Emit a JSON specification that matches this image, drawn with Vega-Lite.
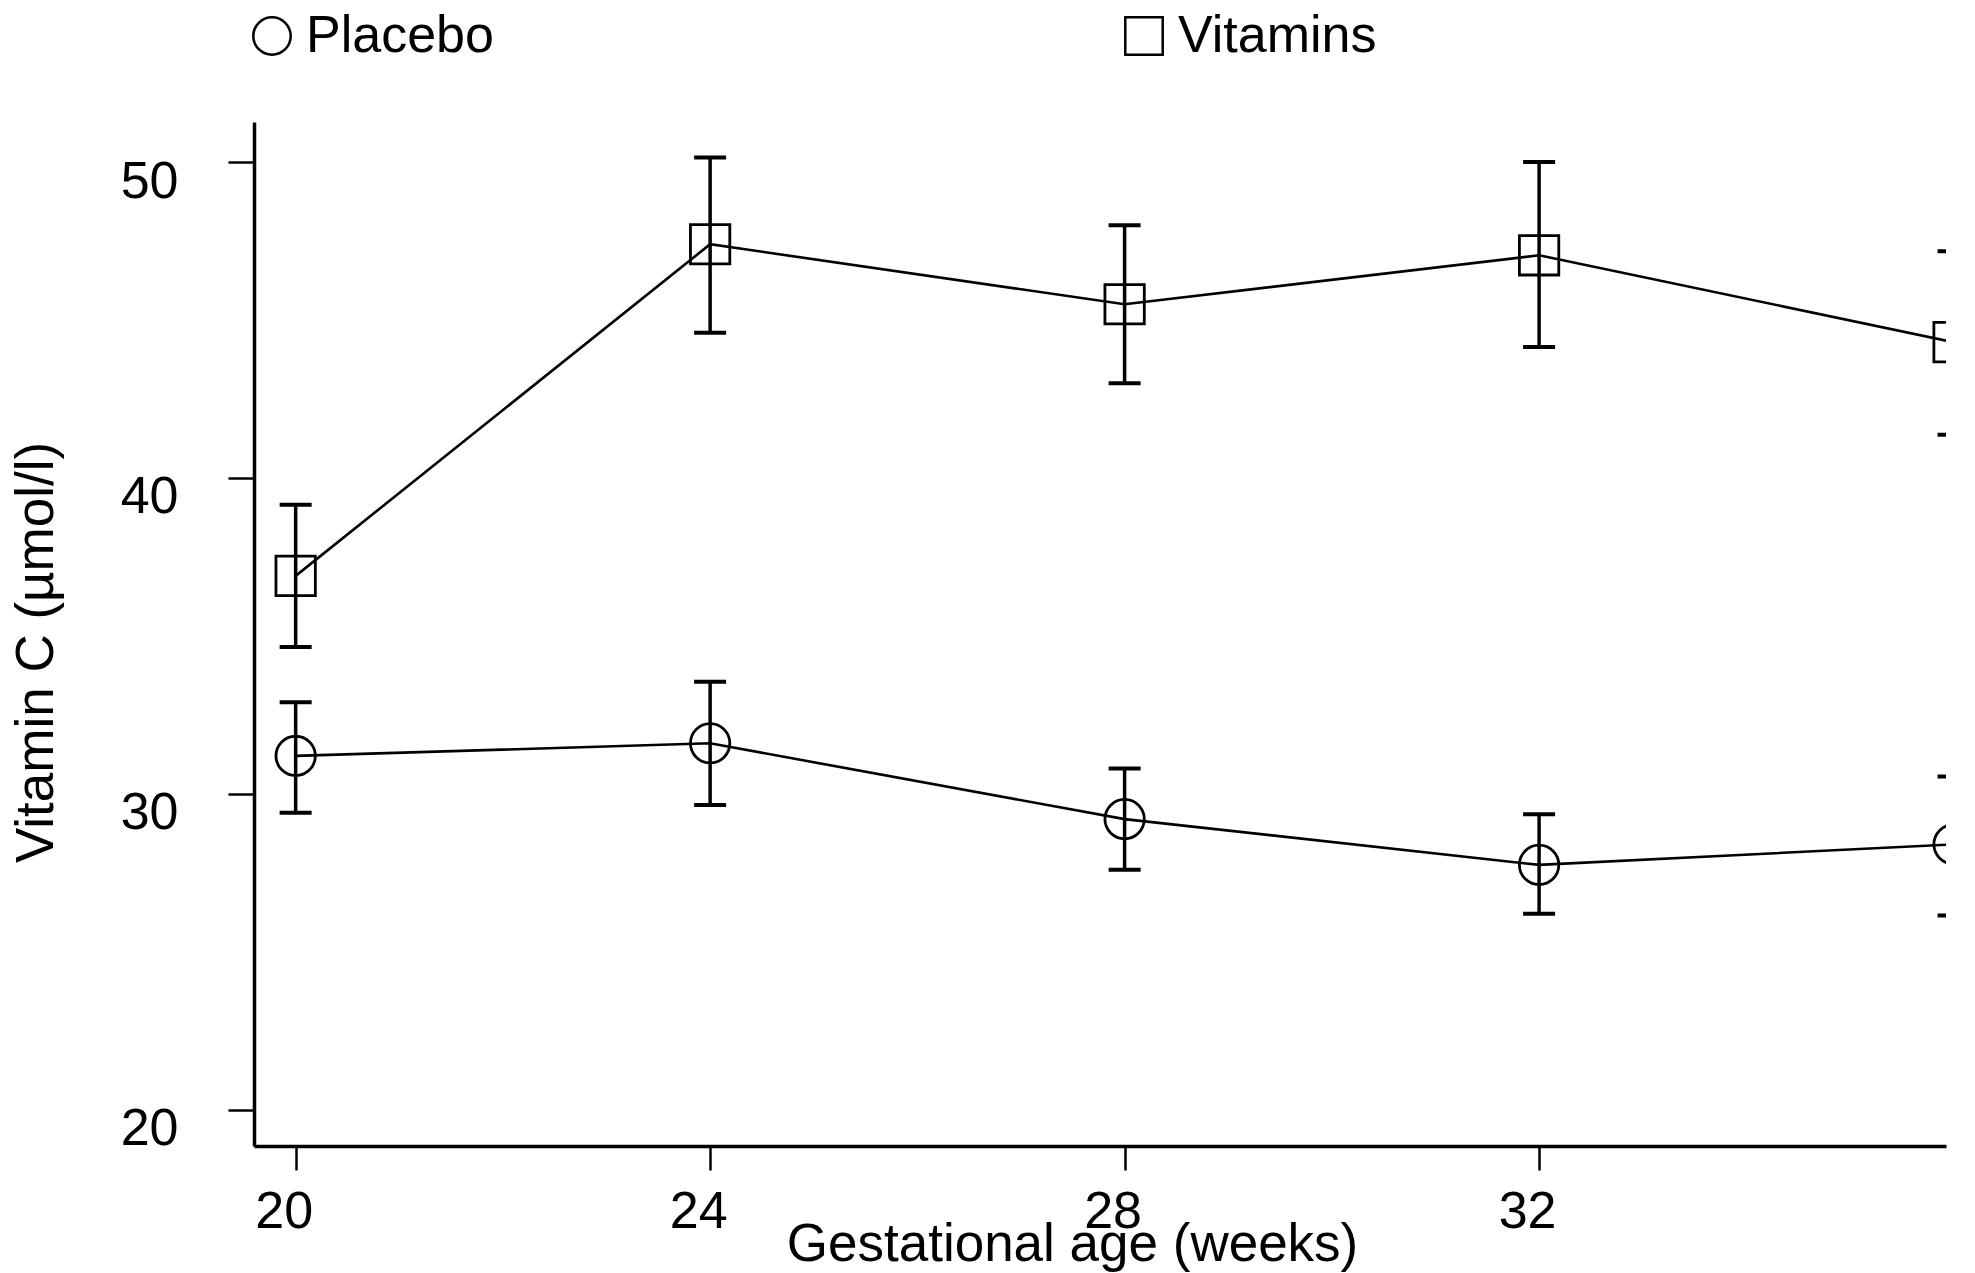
{
  "$schema": "https://vega.github.io/schema/vega-lite/v6.json",
  "width": 1692,
  "height": 1024,
  "autosize": {"type": "none"},
  "padding": {"left": 254, "top": 122, "right": 29, "bottom": 127},
  "background": "white",
  "config": {
    "view": {"stroke": null},
    "font": "Liberation Sans",
    "axis": {
      "domainColor": "black",
      "domainWidth": 3.5,
      "tickColor": "black",
      "tickWidth": 2.5,
      "grid": false,
      "labelFont": "Liberation Sans",
      "labelFontSize": 52,
      "labelColor": "black",
      "titleFont": "Liberation Sans",
      "titleFontSize": 53,
      "titleFontWeight": "normal",
      "titleColor": "black"
    },
    "legend": {
      "labelFont": "Liberation Sans",
      "labelFontSize": 52,
      "labelColor": "black",
      "labelLimit": 600
    }
  },
  "data": {
    "values": [
      {"week": 20, "group": "Placebo", "mean": 31.2, "lo": 29.4, "hi": 32.9},
      {"week": 24, "group": "Placebo", "mean": 31.6, "lo": 29.65, "hi": 33.55},
      {"week": 28, "group": "Placebo", "mean": 29.2, "lo": 27.6, "hi": 30.8},
      {"week": 32, "group": "Placebo", "mean": 27.75, "lo": 26.2, "hi": 29.35},
      {"week": 36, "group": "Placebo", "mean": 28.4, "lo": 26.15, "hi": 30.55},
      {"week": 20, "group": "Vitamins", "mean": 36.9, "lo": 34.65, "hi": 39.15},
      {"week": 24, "group": "Vitamins", "mean": 47.4, "lo": 44.6, "hi": 50.15},
      {"week": 28, "group": "Vitamins", "mean": 45.5, "lo": 43.0, "hi": 48.0},
      {"week": 32, "group": "Vitamins", "mean": 47.05, "lo": 44.15, "hi": 50.0},
      {"week": 36, "group": "Vitamins", "mean": 44.3, "lo": 41.37, "hi": 47.18}
    ]
  },
  "encoding": {
    "x": {
      "field": "week",
      "type": "quantitative",
      "scale": {"domain": [19.598, 35.927], "nice": false, "zero": false},
      "axis": {
        "values": [20, 24, 28, 32, 36],
        "title": "Gestational age (weeks)",
        "tickSize": 24,
        "labelPadding": 16,
        "labelBaseline": "top",
        "labelOffset": -12,
        "labelFlush": false,
        "labelOverlap": false,
        "titleX": 818,
        "titleY": 114,
        "titleBaseline": "alphabetic",
        "titleAlign": "center"
      }
    }
  },
  "layer": [
    {
      "mark": {"type": "rule", "color": "black", "strokeWidth": 3.5, "opacity": 1, "clip": true},
      "encoding": {
        "y": {
          "field": "lo",
          "type": "quantitative",
          "scale": {"domain": [18.85, 51.27], "nice": false, "zero": false},
          "axis": {
            "values": [20, 30, 40, 50],
            "title": "Vitamin C (\u00b5mol/l)",
            "tickSize": 26,
            "labelPadding": 50,
            "labelBaseline": "top",
            "labelOffset": -6,
            "labelFlush": false,
            "titleX": -202,
            "titleY": 530,
            "titleAngle": -90,
            "titleBaseline": "alphabetic",
            "titleAlign": "center"
          }
        },
        "y2": {"field": "hi"}
      }
    },
    {
      "mark": {"type": "tick", "orient": "horizontal", "color": "black", "size": 32, "thickness": 4, "opacity": 1, "clip": true},
      "encoding": {"y": {"field": "lo", "type": "quantitative"}}
    },
    {
      "mark": {"type": "tick", "orient": "horizontal", "color": "black", "size": 32, "thickness": 4, "opacity": 1, "clip": true},
      "encoding": {"y": {"field": "hi", "type": "quantitative"}}
    },
    {
      "mark": {"type": "line", "color": "black", "strokeWidth": 2.6, "clip": true},
      "encoding": {
        "y": {"field": "mean", "type": "quantitative"},
        "detail": {"field": "group", "type": "nominal"}
      }
    },
    {
      "mark": {"type": "point", "filled": false, "color": "black", "strokeWidth": 2.8, "size": 1550, "opacity": 1, "clip": true},
      "encoding": {
        "y": {"field": "mean", "type": "quantitative"},
        "shape": {
          "field": "group",
          "type": "nominal",
          "scale": {"domain": ["Placebo", "Vitamins"], "range": ["circle", "square"]},
          "legend": {
            "title": null,
            "orient": "none",
            "legendX": -8,
            "legendY": -112,
            "direction": "horizontal",
            "columns": 2,
            "columnPadding": 624,
            "symbolSize": 1400,
            "symbolStrokeColor": "black",
            "symbolFillColor": "white",
            "symbolStrokeWidth": 2.5,
            "labelOffset": 8,
            "labelLimit": 600,
            "padding": 0
          }
        }
      }
    }
  ]
}
